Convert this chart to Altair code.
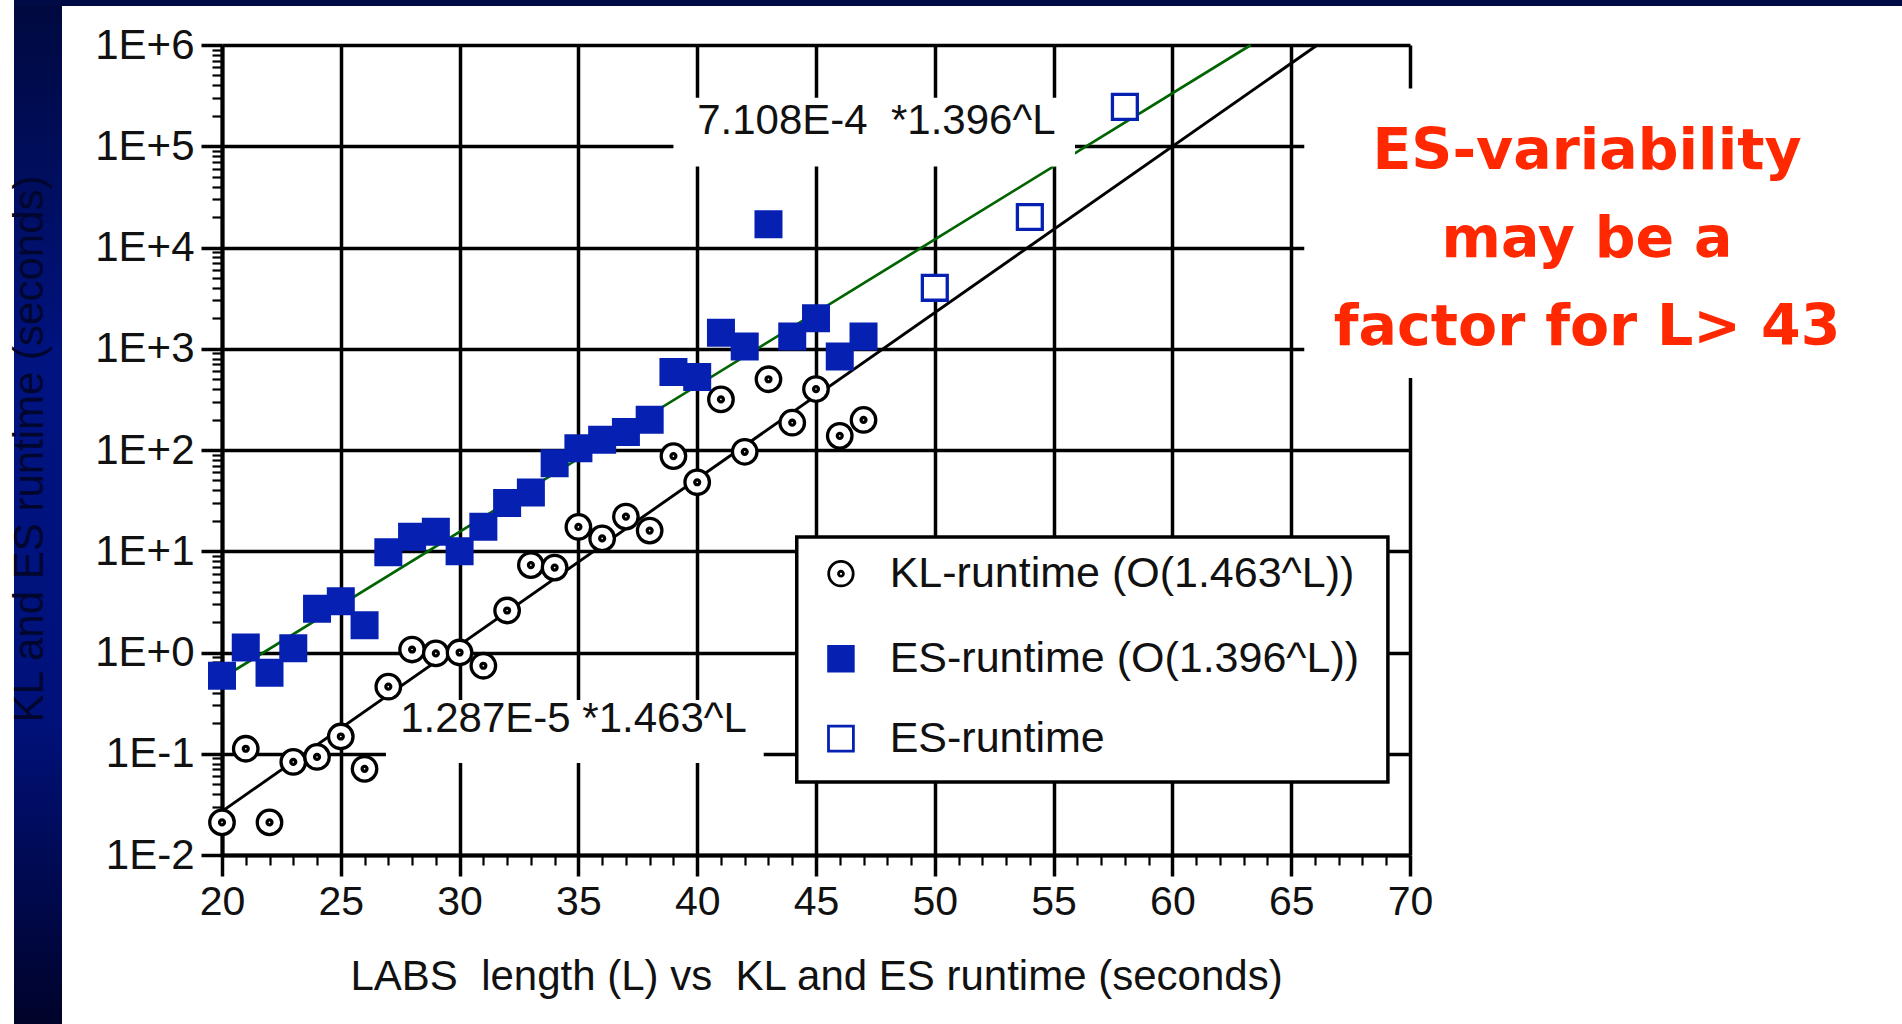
import altair as alt
import pandas as pd

# ---------------- data ----------------
L_kl = list(range(20, 48))
kl_runtime = [0.021, 0.112, 0.021, 0.083, 0.093, 0.148, 0.071, 0.46, 1.07, 0.98,
              1.0, 0.74, 2.6, 7.3, 6.9, 17.4, 13.4, 22, 16, 87,
              48, 316, 96, 500, 186, 400, 138, 198]
L_es_fit = list(range(20, 48))
es_fit_runtime = [0.59, 1.12, 0.63, 1.1, 2.7, 3.2, 1.86, 9.8, 13.9, 15.6,
                  10, 17.5, 30, 38, 74, 104, 126, 151, 199, 590,
                  525, 1440, 1050, 17000, 1320, 2000, 840, 1320]
L_es = [50, 54, 58]
es_runtime = [4000, 20000, 245000]

# fitted lines (end points)
kl_line_L = [20, 66.1]
kl_line_v = [0.027, 1e6]
es_line_L = [20, 63.3]
es_line_v = [0.56, 1e6]

series = ["KL-runtime (O(1.463^L))", "ES-runtime (O(1.396^L))", "ES-runtime"]
kl_label = "1.287E-5 *1.463^L"
es_label = "7.108E-4\u00a0 *1.396^L"
note = "ES-variability\nmay be a\nfactor for L> 43"
x_title = "LABS\u00a0 length (L) vs\u00a0 KL and ES runtime (seconds)"
y_title = "KL and ES runtime (seconds)"

# white label backgrounds (data coordinates)
box_L = [26.9, 39.0, 65.55]
box_L2 = [42.8, 55.9, 75.0]
box_v = [0.081, 63000, 513]
box_v2 = [0.34, 302000, 371500]

# legend placement (data coordinates)
legend_box = {"L": [44.19], "L2": [69.07], "v": [0.0525], "v2": [13.8]}
legend_sym_L = 46.05
legend_txt_L = 48.1
legend_rows_v = [6.0, 0.869, 0.141]

# ---------------- styling ----------------
FONT = "Liberation Sans"
BLUE = "#0620B2"
GREEN = "#006400"
TXT = "#111111"
KL_PATH = ("M-1,0A1,1,0,1,1,1,0A1,1,0,1,1,-1,0Z"
           "M-0.2,0A0.2,0.2,0,1,1,0.2,0A0.2,0.2,0,1,1,-0.2,0Z")

pts = pd.DataFrame({
    "L": L_kl + L_es_fit + L_es,
    "v": kl_runtime + es_fit_runtime + es_runtime,
    "series": [series[0]] * len(L_kl) + [series[1]] * len(L_es_fit) + [series[2]] * len(L_es),
})
kl_line = pd.DataFrame({"L": kl_line_L, "v": kl_line_v})
es_line = pd.DataFrame({"L": es_line_L, "v": es_line_v})
boxes = pd.DataFrame({"L": box_L, "L2": box_L2, "v": box_v, "v2": box_v2})
ann = pd.DataFrame({"L": [27.5, 40.0], "v": [0.22, 178000], "t": [kl_label, es_label]})
leg_box = pd.DataFrame(legend_box)
leg_rows = pd.DataFrame({"Ls": [legend_sym_L] * 3, "L": [legend_txt_L] * 3,
                         "v": legend_rows_v, "series": series})
one = pd.DataFrame({"t": [note]})
ytd = pd.DataFrame({"t": [y_title]})
dummy = pd.DataFrame({"a": [0]})

MAJ_X = "datum.value % 5 == 0"
MAJ_Y = "abs(log(datum.value)/LN10 - round(log(datum.value)/LN10)) < 0.001"

x_values = list(range(20, 71))
y_values = [m * 10.0 ** e for e in range(-2, 6) for m in range(1, 10)] + [1e6]

xs = alt.Scale(type="linear", domain=[20, 70], nice=False, zero=False)
ys = alt.Scale(type="log", domain=[0.01, 1e6], nice=False)

xaxis = alt.Axis(
    values=x_values, title=x_title, titleFont=FONT, titleFontSize=42,
    titleFontWeight="normal", titleColor=TXT, titleY=121, titleBaseline="middle",
    labelExpr=f"({MAJ_X}) ? datum.label : ''", labelFont=FONT, labelFontSize=41,
    labelColor=TXT, labelPadding=6, labelOverlap=False, labelFlush=False, labelBound=False,
    tickColor="black",
    tickSize={"condition": {"test": MAJ_X, "value": 21}, "value": 10},
    tickWidth={"condition": {"test": MAJ_X, "value": 3.5}, "value": 2.2},
    grid=True, gridColor="black", gridWidth=3.5,
    gridOpacity={"condition": {"test": MAJ_X, "value": 1}, "value": 0},
    domainColor="black", domainWidth=4, zindex=0,
)
yaxis = alt.Axis(
    values=y_values, title=None,
    labelExpr=f"({MAJ_Y}) ? '1E' + (datum.value >= 0.999 ? '+' : '-') + abs(round(log(datum.value)/LN10)) : ''",
    labelFont=FONT, labelFontSize=42, labelColor=TXT, labelPadding=7,
    labelOverlap=False, labelFlush=False, labelBound=False,
    tickColor="black",
    tickSize={"condition": {"test": MAJ_Y, "value": 21}, "value": 10},
    tickWidth={"condition": {"test": MAJ_Y, "value": 3.5}, "value": 2.2},
    grid=True, gridColor="black", gridWidth=3.5,
    gridOpacity={"condition": {"test": MAJ_Y, "value": 1}, "value": 0},
    domainColor="black", domainWidth=4, zindex=0,
)

X = alt.X("L:Q", scale=xs, axis=xaxis)
Y = alt.Y("v:Q", scale=ys, axis=yaxis)

shape_enc = alt.Shape("series:N", scale=alt.Scale(domain=series, range=[KL_PATH, "square", "square"]), legend=None)
fill_enc = alt.Fill("series:N", scale=alt.Scale(domain=series, range=["white", BLUE, "white"]), legend=None)
stroke_enc = alt.Stroke("series:N", scale=alt.Scale(domain=series, range=["black", BLUE, BLUE]), legend=None)

band_grad = alt.LinearGradient(
    gradient="linear", x1=0, x2=0, y1=0, y2=1,
    stops=[alt.GradientStop(color="#00093F", offset=0),
           alt.GradientStop(color="#001380", offset=0.35),
           alt.GradientStop(color="#00117A", offset=0.7),
           alt.GradientStop(color="#00032A", offset=1)],
)

band = alt.Chart(dummy).mark_rect(color=band_grad).encode(
    x=alt.value(-208), x2=alt.value(-160), y=alt.value(-39), y2=alt.value(979))
topbar = alt.Chart(dummy).mark_rect(color="#000A45").encode(
    x=alt.value(-208), x2=alt.value(1680), y=alt.value(-45), y2=alt.value(-39))
ytitle = alt.Chart(ytd).mark_text(
    angle=270, font=FONT, fontSize=42, color="#00062E", align="center", baseline="middle"
).encode(x=alt.value(-192), y=alt.value(404), text="t:N")

es_fit_layer = alt.Chart(es_line).mark_line(color=GREEN, strokeWidth=2.7).encode(x=X, y=Y)
kl_fit_layer = alt.Chart(kl_line).mark_line(color="black", strokeWidth=2.9).encode(x=X, y=Y)

box_layer = alt.Chart(boxes).mark_rect(color="white").encode(
    x=X, x2="L2:Q", y=Y, y2="v2:Q")

ann_layer = alt.Chart(ann).mark_text(
    align="left", baseline="middle", font=FONT, fontSize=42, color=TXT
).encode(x=X, y=Y, text="t:N")

pts_layer = alt.Chart(pts).mark_point(opacity=1, strokeWidth=3.3).encode(
    x=X, y=Y, shape=shape_enc, fill=fill_enc, stroke=stroke_enc,
    size=alt.Size("series:O", scale=alt.Scale(domain=series, range=[600, 620, 450]), legend=None),
)

# legend
leg_box_layer = alt.Chart(leg_box).mark_rect(fill="white", stroke="black", strokeWidth=3.5).encode(
    x=X, x2="L2:Q", y=Y, y2="v2:Q")
leg_sym_layer = alt.Chart(leg_rows).mark_point(opacity=1, strokeWidth=2.8).encode(
    x=alt.X("Ls:Q", scale=xs, axis=xaxis), y=Y, shape=shape_enc, fill=fill_enc, stroke=stroke_enc,
    size=alt.Size("series:O", scale=alt.Scale(domain=series, range=[230, 300, 250]), legend=None),
)
leg_txt_layer = alt.Chart(leg_rows).mark_text(
    align="left", baseline="middle", font=FONT, fontSize=43, color=TXT
).encode(x=X, y=Y, text="series:N")

note_layer = alt.Chart(one).mark_text(
    font="Comic Sans MS, DejaVu Sans", fontSize=57, fontWeight="bold", color="#FF2800",
    align="center", baseline="middle", lineBreak="\n", lineHeight=88,
).encode(x=alt.value(1365), y=alt.value(107), text="t:N")

chart = alt.layer(
    band, topbar, ytitle, es_fit_layer, kl_fit_layer, box_layer, ann_layer, pts_layer,
    leg_box_layer, leg_sym_layer, leg_txt_layer, note_layer
).properties(
    width=1188, height=810,
    autosize=alt.AutoSizeParams(type="none"),
    padding={"left": 222, "top": 45, "right": 492, "bottom": 169},
    background="white",
).configure_view(stroke=None)

chart.save("out.html", embed_options={"renderer": "svg", "actions": False})
